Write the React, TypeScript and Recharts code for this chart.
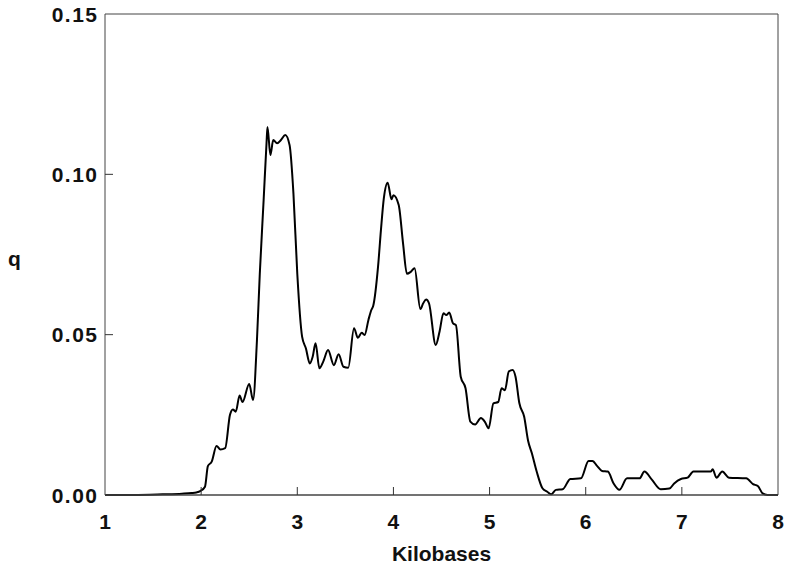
import { Line, LineChart, ReferenceLine, XAxis, YAxis } from 'recharts'

const kilobases = [
  1.0, 1.3, 1.6, 1.8, 1.9, 1.95, 1.99, 2.04, 2.07, 2.11, 2.16, 2.2, 2.25, 2.3, 2.33, 2.36, 2.4, 2.43,
  2.5, 2.54, 2.58, 2.61, 2.65, 2.68, 2.69, 2.72, 2.75, 2.79, 2.83, 2.875, 2.92, 2.96, 3.0, 3.05, 3.09,
  3.13, 3.16, 3.19, 3.23, 3.27, 3.32, 3.38, 3.43, 3.48, 3.53, 3.59, 3.63, 3.67, 3.7, 3.74, 3.77, 3.79,
  3.84, 3.87, 3.9, 3.94, 3.98, 4.0, 4.055, 4.1, 4.14, 4.18, 4.22, 4.28, 4.31, 4.34, 4.37, 4.44, 4.48,
  4.52, 4.55, 4.58, 4.62, 4.65, 4.7, 4.75, 4.8, 4.85, 4.91, 4.95, 4.99, 5.04, 5.09, 5.125, 5.16, 5.2,
  5.24, 5.27, 5.31, 5.36, 5.4, 5.44, 5.49, 5.55, 5.6, 5.64, 5.69, 5.76, 5.84, 5.95, 6.03, 6.07, 6.12,
  6.17, 6.23, 6.29, 6.35, 6.43, 6.56, 6.61, 6.69, 6.78, 6.87, 6.92, 6.99, 7.06, 7.12, 7.3, 7.32, 7.36,
  7.42, 7.49, 7.67, 7.74, 7.79, 7.84, 7.89, 8.0,
]

const qValues = [
  0, 0, 0.0002, 0.0004, 0.0006, 0.0008, 0.0012, 0.0026, 0.009, 0.0104, 0.0153, 0.0142, 0.0146, 0.025,
  0.0267, 0.026, 0.031, 0.029, 0.0346, 0.0296, 0.048, 0.069, 0.092, 0.1097, 0.1148, 0.106, 0.1107,
  0.1097, 0.1107, 0.1123, 0.1091, 0.094, 0.069, 0.0494, 0.0457, 0.041, 0.0431, 0.0473, 0.0395, 0.0416,
  0.0452, 0.0405, 0.0439, 0.04, 0.0397, 0.052, 0.049, 0.0506, 0.0499, 0.0546, 0.0577, 0.059, 0.0712,
  0.0826, 0.0925, 0.0974, 0.0922, 0.0935, 0.0904, 0.0785, 0.069, 0.0696, 0.0707, 0.058, 0.0598, 0.061,
  0.0598, 0.0468, 0.051, 0.0567, 0.0561, 0.0569, 0.0535, 0.053, 0.0369, 0.0333, 0.0229, 0.022, 0.024,
  0.0229, 0.0208, 0.0286, 0.029, 0.0333, 0.0327, 0.0385, 0.039, 0.0369, 0.0286, 0.0244, 0.017, 0.013,
  0.0073, 0.0021, 0.001, 0.0002, 0.0016, 0.0018, 0.005, 0.0052, 0.0106, 0.0106, 0.009, 0.0075, 0.0073,
  0.0036, 0.0016, 0.0052, 0.0052, 0.0073, 0.0047, 0.0018, 0.002, 0.0036, 0.005, 0.0054, 0.0073, 0.0073,
  0.008, 0.0054, 0.0073, 0.0054, 0.0052, 0.0034, 0.0028, 0.0005, 0, 0,
]

const xTicks = [1, 2, 3, 4, 5, 6, 7, 8]
const yTicks = [0, 0.05, 0.1, 0.15]

const data = kilobases.map((k, i) => ({ kb: k, q: qValues[i] }))

const font = '"Liberation Sans", Arial, sans-serif'

function YTick(props: any) {
  const { x, y, payload } = props
  const v = payload.value
  return (
    <g>
      {v > 0 && v < 0.15 && <line x1={x + 8} x2={x + 16} y1={y} y2={y} stroke="#333" strokeWidth={1} />}
      <text x={x + 1.5} y={y} dy={7.5} textAnchor="end" fontFamily={font} fontSize={21} fontWeight={600} letterSpacing={1.5} fill="#111">
        {v.toFixed(2)}
      </text>
    </g>
  )
}

function XTick(props: any) {
  const { x, y, payload } = props
  const v = payload.value
  return (
    <g>
      {v > 1 && v < 8 && <line x1={x} x2={x} y1={y - 9} y2={y - 17} stroke="#333" strokeWidth={1} />}
      <text x={x} y={y} dy={25} textAnchor="middle" fontFamily={font} fontSize={21} fontWeight={600} fill="#111">
        {v}
      </text>
    </g>
  )
}

export default function App() {
  return (
    <div style={{ position: 'fixed', left: 0, top: 0, width: 786, height: 570, background: '#fff' }}>
      <LineChart width={786} height={570} data={data} margin={{ top: 14, right: 8, bottom: 0, left: 35 }}>
        <XAxis
          dataKey="kb"
          type="number"
          domain={[1, 8]}
          ticks={xTicks}
          tickLine={false}
          tickSize={0}
          tickMargin={9}
          axisLine={{ stroke: '#444', strokeWidth: 1.5 }}
          tick={<XTick />}
          label={{ value: 'Kilobases', position: 'insideBottom', offset: 9, fontFamily: font, fontSize: 21, fontWeight: 600, fill: '#111' }}
          height={75}
        />
        <YAxis
          type="number"
          domain={[0, 0.15]}
          ticks={yTicks}
          tickLine={false}
          tickSize={0}
          tickMargin={8}
          axisLine={{ stroke: '#444', strokeWidth: 1 }}
          tick={<YTick />}
          width={70}
          label={{ value: 'q', angle: 0, position: 'insideLeft', offset: -27, dy: 4, fontFamily: font, fontSize: 21, fontWeight: 600, fill: '#111' }}
        />
        <ReferenceLine y={0.15} stroke="#444" strokeWidth={1} />
        <ReferenceLine x={8} stroke="#444" strokeWidth={1} />
        <Line
          type="monotone"
          dataKey="q"
          stroke="#000"
          strokeWidth={2}
          dot={false}
          isAnimationActive={false}
        />
      </LineChart>
    </div>
  )
}
